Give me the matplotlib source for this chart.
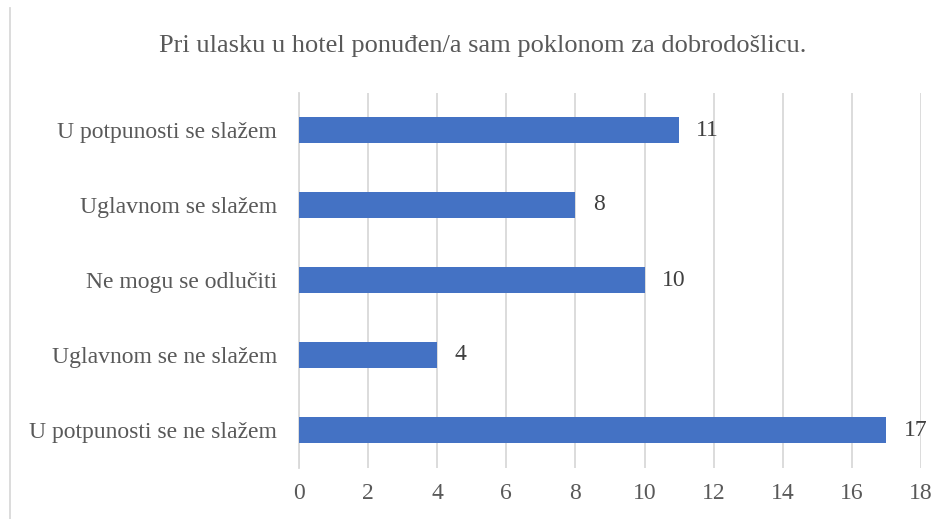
import matplotlib
matplotlib.use("Agg")
import matplotlib.pyplot as plt
from matplotlib.lines import Line2D

title = "Pri ulasku u hotel ponuđen/a sam poklonom za dobrodošlicu."
categories = ["U potpunosti se slažem", "Uglavnom se slažem", "Ne mogu se odlučiti",
              "Uglavnom se ne slažem", "U potpunosti se ne slažem"]
values = [11, 8, 10, 4, 17]
xticks = [0, 2, 4, 6, 8, 10, 12, 14, 16, 18]

plt.rcParams['font.family'] = ['Liberation Serif', 'DejaVu Serif']
txt = '#595959'
fs = 17

fig = plt.figure(figsize=(9.49, 5.19), dpi=100)
ax = fig.add_axes([299/949, 1-467.5/519, (921-299)/949, (467.5-92.5)/519])

ypos = list(range(len(categories)))[::-1]
ax.barh(ypos, values, height=0.35, color='#4472C4', zorder=3)
for y, v in zip(ypos, values):
    ax.text(v + 0.5, y, str(v), va='center', ha='left', fontsize=fs, color='#404040')

ax.set_xlim(0, 18)
ax.set_ylim(-0.5, 4.5)
ax.set_xticks(xticks)
ax.set_xticklabels([str(t) for t in xticks], fontsize=fs, color=txt)
ax.set_yticks(ypos)
ax.set_yticklabels(categories, fontsize=fs, color=txt)
ax.tick_params(axis='x', length=0, pad=11)
ax.tick_params(axis='y', length=0, pad=16)
ax.xaxis.grid(True, color='#d9d9d9', linewidth=1.3, zorder=0)
for s in ['top', 'right', 'bottom']:
    ax.spines[s].set_visible(False)
ax.spines['left'].set_color('#d9d9d9')
ax.spines['left'].set_linewidth(1.3)

fig.text(483/949, 1-46/519, title, ha='center', va='center', fontsize=19, color=txt)
fig.add_artist(Line2D([9.5/949, 9.5/949], [0, 1-8/519], transform=fig.transFigure,
                      color='#d9d9d9', linewidth=1.3))

fig.savefig('out.png', dpi=100, facecolor='white')
